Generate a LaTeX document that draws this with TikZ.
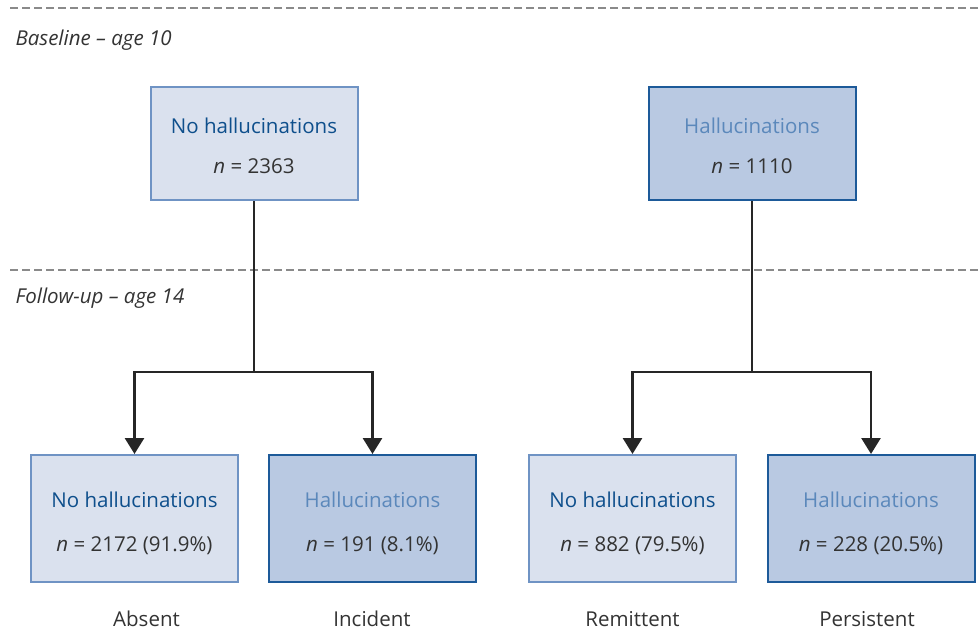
\documentclass[tikz,border=0pt]{standalone}
\usepackage{fontspec}
\setmainfont{Open Sans}
\usetikzlibrary{arrows.meta}

\definecolor{lightfill}{HTML}{DAE1EE}
\definecolor{lightline}{HTML}{6F93C4}
\definecolor{darkfill}{HTML}{B9C9E2}
\definecolor{darkline}{HTML}{1D5A99}
\definecolor{notext}{HTML}{0E4F8C}
\definecolor{haltext}{HTML}{5B88BB}
\definecolor{ntext}{HTML}{333333}
\definecolor{dashgray}{HTML}{8A8A8A}

\tikzset{>={Triangle[length=16pt,width=19pt]},
  nobox/.style={draw=lightline, fill=lightfill, line width=2pt,
    minimum width=207pt, minimum height=#1, align=center, inner sep=0pt,
    font=\fontsize{20.5}{23}\selectfont, text=ntext},
  halbox/.style={nobox=#1, draw=darkline, fill=darkfill},
  wave/.style={line width=1.4pt, dashgray, dash pattern=on 8pt off 4pt},
  link/.style={line width=2.8pt, black!85},
  lbl/.style={font=\fontsize{20.5}{23}\selectfont, text=ntext}
}

\begin{document}
\begin{tikzpicture}[x=1pt,y=-1pt]
  \useasboundingbox (0,0) rectangle (979,642);

  % Time points
  \draw[wave] (10,8) -- (979,8);
  \draw[wave] (10,270) -- (979,270);
  \node[lbl,anchor=west] (base) at (12,40) {\textit{Baseline -- age 10}};
  \node[lbl,anchor=west] (follow) at (12,298) {\textit{Follow-up -- age 14}};

  % Baseline boxes
  \node[nobox=113pt] (nohal) at (254,143.5)
    {\rule{0pt}{21pt}{\color{notext}No hallucinations}\\[17pt]\textit{n} = 2363};
  \node[halbox=113pt] (hal) at (752,143.5)
    {\rule{0pt}{21pt}{\color{haltext}Hallucinations}\\[17pt]\textit{n} = 1110};

  % Follow-up boxes
  \node[nobox=127pt] (absent) at (134.5,518.5)
    {\rule{0pt}{25pt}{\color{notext}No hallucinations}\\[21pt]\textit{n} = 2172 (91.9\%)};
  \node[halbox=127pt] (incident) at (372.5,518.5)
    {\rule{0pt}{25pt}{\color{haltext}Hallucinations}\\[21pt]\textit{n} = 191 (8.1\%)};
  \node[nobox=127pt] (remit) at (632.5,518.5)
    {\rule{0pt}{25pt}{\color{notext}No hallucinations}\\[21pt]\textit{n} = 882 (79.5\%)};
  \node[halbox=127pt] (persist) at (871,518.5)
    {\rule{0pt}{25pt}{\color{haltext}Hallucinations}\\[21pt]\textit{n} = 228 (20.5\%)};

  % Outcome labels
  \node[lbl] (absentlbl) at (146.5,619) {Absent};
  \node[lbl] (incidentlbl) at (372,619) {Incident};
  \node[lbl] (remitlbl) at (632.5,619) {Remittent};
  \node[lbl] (persistlbl) at (867,619) {Persistent};

  % Connectors
  \coordinate (splitno) at (254,372);
  \coordinate (splithal) at (752,372);
  \draw[link] (nohal.south) -- (splitno);
  \draw[link,->] (splitno) -| (absent.north);
  \draw[link,->] (splitno) -| (incident.north);
  \draw[link] (hal.south) -- (splithal);
  \draw[link,->] (splithal) -| (remit.north);
  \draw[link,->] (splithal) -| (persist.north);
\end{tikzpicture}
\end{document}
